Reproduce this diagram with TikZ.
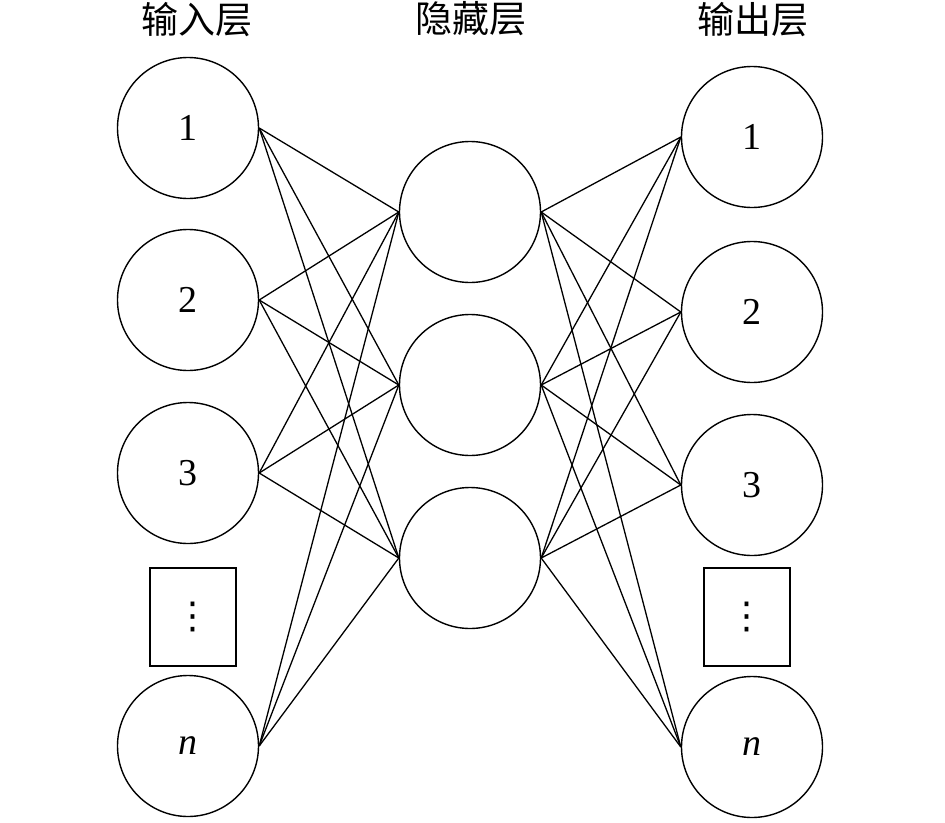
\documentclass[tikz,border=0pt]{standalone}
\usepackage{fontspec}
\setmainfont{Liberation Serif}
\newfontfamily\cjk{Noto Sans CJK SC}
\newfontfamily\symfont{DejaVu Sans}
\begin{document}
\begin{tikzpicture}[x=1pt,y=-1pt,
  neuron/.style={circle,draw,line width=1.4pt,minimum size=141pt,inner sep=0pt,font=\fontsize{38}{40}\selectfont},
  dotbox/.style={rectangle,draw,line width=1.4pt,minimum width=86pt,minimum height=98pt,inner sep=0pt,font=\symfont\fontsize{37}{40}\selectfont},
  title/.style={font=\cjk\fontsize{37}{40}\selectfont,inner sep=0pt},
  link/.style={line width=1.3pt}]
\useasboundingbox (0,0) rectangle (945,822);
% titles
\node[title] (t1) at (197,20) {输入层};
\node[title] (t2) at (471,19) {隐藏层};
\node[title] (t3) at (753,20) {输出层};
% input layer
\node[neuron] (i1) at (188,128) {1};
\node[neuron] (i2) at (188,300) {2};
\node[neuron] (i3) at (188,473) {3};
\node[dotbox] (id) at (193,617) {⋮};
\node[neuron] (in) at (188,746) {\itshape n};
% hidden layer
\node[neuron] (h1) at (470,212) {};
\node[neuron] (h2) at (470,385) {};
\node[neuron] (h3) at (470,558) {};
% output layer
\node[neuron] (o1) at (752,137) {1};
\node[neuron] (o2) at (752,312) {2};
\node[neuron] (o3) at (752,485) {3};
\node[dotbox] (od) at (747,617) {⋮};
\node[neuron] (on) at (752,747) {\itshape n};
% connections
\foreach \a in {i1,i2,i3,in}
  \foreach \b in {h1,h2,h3}
    \draw[link] (\a.east) -- (\b.west);
\foreach \a in {h1,h2,h3}
  \foreach \b in {o1,o2,o3,on}
    \draw[link] (\a.east) -- (\b.west);
\end{tikzpicture}
\end{document}
